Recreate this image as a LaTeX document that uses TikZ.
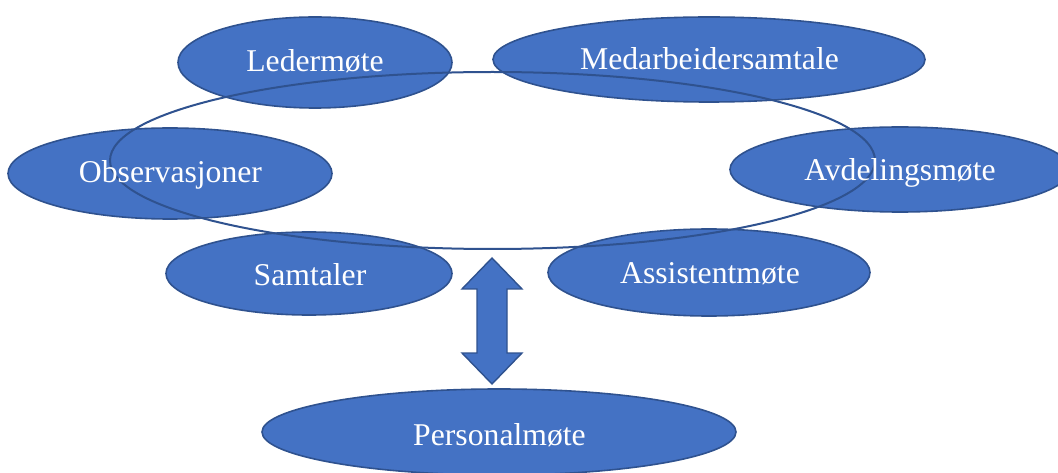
\documentclass[tikz,border=0pt]{standalone}
\usepackage{fontspec}
\setmainfont{Liberation Serif}
\usetikzlibrary{shapes.geometric}
\definecolor{blobfill}{HTML}{4472C4}
\definecolor{blobline}{HTML}{2F528F}
\tikzset{
  blob/.style={ellipse, fill=blobfill, draw=blobline, line width=1.6pt, inner sep=0pt},
  ring/.style={ellipse, draw=blobline, line width=2pt, inner sep=0pt},
  lbl/.style={text=white, inner sep=0pt, anchor=base, font=\fontsize{31.7}{38}\selectfont},
}
\begin{document}
\begin{tikzpicture}[x=1pt,y=-1pt]
\useasboundingbox (0,0) rectangle (1058,473);
% filled meeting ellipses
\node[blob, minimum width=274pt, minimum height=91pt] (leder) at (315,62.5) {};
\node[blob, minimum width=432pt, minimum height=85pt] (medarb) at (709,59.5) {};
\node[blob, minimum width=324pt, minimum height=91pt] (obs) at (170,173.5) {};
\node[blob, minimum width=340pt, minimum height=85pt] (avd) at (900,169.5) {};
\node[blob, minimum width=286pt, minimum height=83pt] (samt) at (309,273.5) {};
\node[blob, minimum width=322pt, minimum height=87pt] (ass) at (709,272.5) {};
\node[blob, minimum width=474pt, minimum height=86pt] (pers) at (499,432) {};
% large outline ellipse joining the meetings
\node[ring, minimum width=765pt, minimum height=177pt] (cycle) at (492.5,160.5) {};
% two-way arrow between the cycle and the staff meeting
\coordinate (uptip) at (492,258);
\coordinate (downtip) at (492,384);
\draw[fill=blobfill, draw=blobline, line width=1.4pt, line join=miter]
  (uptip) -- (522,289) -- (507,289) -- (507,353) -- (522,353) -- (downtip)
  -- (462,353) -- (477,353) -- (477,289) -- (462,289) -- cycle;
% labels, placed on their baselines
\node[lbl] (leder-t) at (315,71.7) {Ledermøte};
\node[lbl] (medarb-t) at (709.5,70) {Medarbeidersamtale};
\node[lbl] (obs-t) at (170.5,182.7) {Observasjoner};
\node[lbl] (avd-t) at (900,180.7) {Avdelingsmøte};
\node[lbl] (samt-t) at (310,286) {Samtaler};
\node[lbl] (ass-t) at (710,283.3) {Assistentmøte};
\node[lbl] (pers-t) at (499.5,445) {Personalmøte};
\end{tikzpicture}
\end{document}
